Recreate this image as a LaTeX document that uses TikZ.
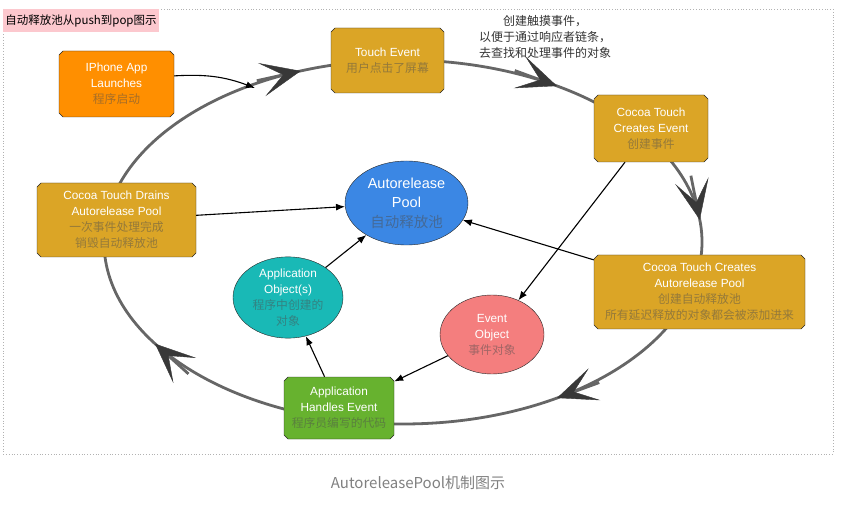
\documentclass[tikz,border=0pt]{standalone}
\usepackage{fontspec}
\setmainfont{Liberation Sans}
\newfontfamily\cjk{Noto Sans CJK SC}
\usetikzlibrary{arrows.meta,shapes.misc,shapes.geometric}
\definecolor{cgold}{HTML}{DBA526}
\definecolor{corange}{HTML}{FF8F00}
\definecolor{cblue}{HTML}{3B87E4}
\definecolor{cteal}{HTML}{19B9B6}
\definecolor{csalmon}{HTML}{F47E7E}
\definecolor{cgreen}{HTML}{67B22F}
\definecolor{cpink}{HTML}{FCC8CE}
\definecolor{zhbase}{HTML}{4D4D4D}
\newcommand\zh[1]{{\cjk\color{zhcol}#1}}
\tikzset{
  stage/.style={chamfered rectangle, chamfered rectangle xsep=2pt,
    chamfered rectangle ysep=2pt, draw=black!85, fill=#1, text=white,
    align=center, inner sep=0pt, font=\fontsize{11.8}{16}\selectfont,
    execute at begin node=\colorlet{zhcol}{#1!50!zhbase}},
  blob/.style={ellipse, draw=black!85, fill=#1, text=white, align=center,
    inner sep=0pt, font=\fontsize{11.8}{16}\selectfont,
    execute at begin node=\colorlet{zhcol}{#1!50!zhbase}},
  ring/.style={line width=2.8pt, draw=black!60},
  ringarrow/.style={line width=2.8pt, draw=black!60,
    -{Stealth[length=40pt,width=34pt,inset=22pt,color=black!78,line width=0.4pt]}},
  link/.style={line width=1.1pt, -{Latex[length=9pt,width=7pt]}}
}
\begin{document}
\begin{tikzpicture}[x=1pt,y=-1pt]
\useasboundingbox (0,0) rectangle (863,505);
% frame and title
\draw[black!30, dotted, line width=0.8pt] (3,9) rectangle (833,454);
\node[fill=cpink, minimum width=156, minimum height=23, inner sep=0pt,
  font=\cjk\fontsize{11.5}{14}\selectfont] (title) at (81,20.5) {自动释放池从push到pop图示};
\node[text=black!50, font=\cjk\fontsize{15}{17}\selectfont] (caption) at (418,483) {AutoreleasePool机制图示};

% the event loop
\draw[ring] (403,242) ellipse [x radius=299, y radius=182];
\foreach \t in {250,301,353,59,146} {
  \pgfmathsetmacro\tx{-2.99*sin(\t)}
  \pgfmathsetmacro\ty{1.82*cos(\t)}
  \pgfmathsetmacro\nrm{sqrt(\tx*\tx+\ty*\ty)}
  \draw[ringarrow] ({403+299*cos(\t)-45*\tx/\nrm},{242+182*sin(\t)-45*\ty/\nrm})
    -- ({403+299*cos(\t)},{242+182*sin(\t)});
}

% stages
\node[stage=corange, minimum width=115, minimum height=66] (launch) at (116.5,84)
  {IPhone App\\Launches\\\zh{程序启动}};
\node[stage=cgold, minimum width=113, minimum height=65] (touch) at (387.5,60.5)
  {Touch Event\\\zh{用户点击了屏幕}};
\node[stage=cgold, minimum width=114, minimum height=67] (mkevent) at (651,128.5)
  {Cocoa Touch\\Creates Event\\\zh{创建事件}};
\node[stage=cgold, minimum width=211, minimum height=74] (mkpool) at (699.5,292)
  {Cocoa Touch Creates\\Autorelease Pool\\\zh{创建自动释放池}\\\zh{所有延迟释放的对象都会被添加进来}};
\node[stage=cgold, minimum width=159, minimum height=74] (drain) at (116.5,220)
  {Cocoa Touch Drains\\Autorelease Pool\\\zh{一次事件处理完成}\\\zh{销毁自动释放池}};
\node[stage=cgreen, minimum width=110, minimum height=62] (handle) at (339,408)
  {Application\\Handles Event\\\zh{程序员编写的代码}};

% objects
\node[blob=cblue, minimum width=123, minimum height=84,
  font=\fontsize{14.5}{19.5}\selectfont] (pool) at (406.5,203)
  {Autorelease\\Pool\\\zh{自动释放池}};
\node[blob=cteal, minimum width=110, minimum height=75] (appobj) at (288,297.5)
  {Application\\Object(s)\\\zh{程序中创建的}\\\zh{对象}};
\node[blob=csalmon, minimum width=104, minimum height=79] (evobj) at (492,334.5)
  {Event\\Object\\\zh{事件对象}};

\node[text=black!80, align=center, font=\cjk\fontsize{12}{16}\selectfont] (note) at (545,37)
  {创建触摸事件，\\以便于通过响应者链条，\\去查找和处理事件的对象};

% links
\coordinate (enter) at (255,88);
\draw[link] (launch.8) to[bend left=12] (enter);
\draw[link] (drain) -- (pool);
\draw[link] (mkpool) -- (pool);
\draw[link] (mkevent) -- (evobj);
\draw[link] (evobj) -- (handle);
\draw[link] (handle) -- (appobj);
\draw[link] (appobj) -- (pool);
\end{tikzpicture}
\end{document}
